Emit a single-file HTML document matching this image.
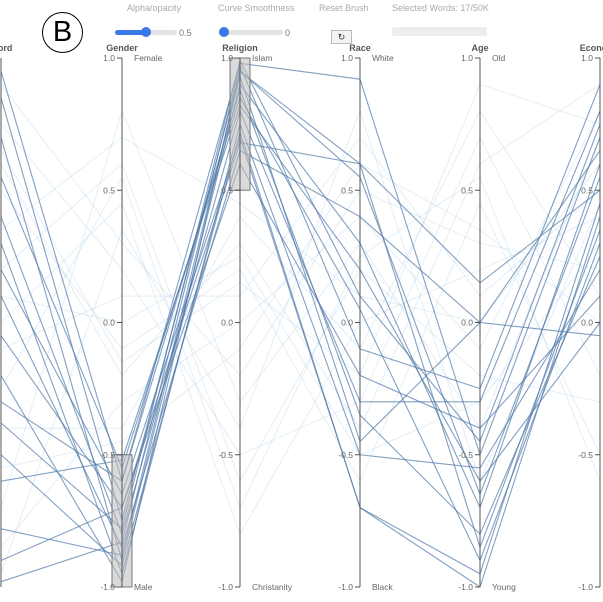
<!DOCTYPE html>
<html><head><meta charset="utf-8"><style>
body{margin:0;background:#fff;font-family:"Liberation Sans",sans-serif;}
#wrap{position:relative;width:603px;height:602px;overflow:hidden}
.lbl{position:absolute;font-size:9px;color:#aaa;white-space:nowrap}
</style></head><body>
<div id="wrap">
<div style="position:absolute;left:42px;top:12px;width:39px;height:39px;border:1.5px solid #000;border-radius:50%;font-size:29px;line-height:39px;text-align:center;">B</div>
<div class="lbl" style="left:127px;top:3px">Alpha/opacity</div>
<div style="position:absolute;left:115px;top:30px;width:62px;height:5px;background:#e3e3e3;border-radius:3px"><div style="width:31px;height:5px;background:#3b78e7;border-radius:3px"></div><div style="position:absolute;left:26px;top:-3px;width:10px;height:10px;border-radius:50%;background:#3b78e7"></div></div>
<div class="lbl" style="left:179px;top:28px;color:#777">0.5</div>
<div class="lbl" style="left:218px;top:3px">Curve Smoothness</div>
<div style="position:absolute;left:220px;top:30px;width:63px;height:5px;background:#e3e3e3;border-radius:3px"><div style="position:absolute;left:-1px;top:-3px;width:10px;height:10px;border-radius:50%;background:#3b78e7"></div></div>
<div class="lbl" style="left:285px;top:28px;color:#777">0</div>
<div class="lbl" style="left:319px;top:3px">Reset Brush</div>
<div style="position:absolute;left:331px;top:30px;width:19px;height:12px;border:1px solid #bbb;background:#f4f4f4;font-size:9px;text-align:center;line-height:12px;color:#333">↻</div>
<div class="lbl" style="left:392px;top:3px">Selected Words: 17/50K</div>
<div style="position:absolute;left:392px;top:27px;width:95px;height:9px;background:#ebedef;border-radius:2px"></div>
<svg id="chart" width="603" height="602" style="position:absolute;left:0;top:0"></svg>
</div>
<script>
const dims=["Word","Gender","Religion","Race","Age","Economy"];
const topCats=["","Female","Islam","White","Old",""];
const botCats=["","Male","Christanity","Black","Young",""];
const tickVals=[1.0,0.5,0.0,-0.5,-1.0];
const tickLabels=["1.0","0.5","0.0","-0.5","-1.0"];
const selWord=[0.95,0.85,0.7,0.55,0.4,0.3,0.2,0.1,-0.05,-0.2,-0.3,-0.38,-0.5,-0.6,-0.78,-0.9,-0.98];
const selGender=[-0.6,-0.75,-0.9,-0.55,-0.8,-0.95,-0.65,-0.85,-0.7,-0.98,-0.6,-0.78,-0.92,-0.52,-0.88,-0.7,-0.83];
const selReligion=[0.98,0.95,0.9,0.85,0.8,0.75,0.7,0.65,0.6,0.95,0.88,0.99,0.72,0.82,0.93,0.68,0.97];
const selRace=[0.92,0.6,0.3,0.05,-0.3,-0.5,-0.7,0.4,-0.2,0.55,-0.35,0.1,-0.7,0.2,-0.45,0.6,-0.1];
const selAge=[-0.5,0.15,-0.7,-0.9,-0.3,-0.55,-1.0,0.0,-0.4,-0.65,-0.8,-0.45,-0.95,-0.6,0.0,-0.85,-0.25];
const selEcon=[0.7,0.5,0.6,0.3,0.8,0.2,0.4,0.65,0.1,0.55,0.25,0.75,0.45,0.0,-0.05,0.35,0.9];
const bgWord=[0.9,0.6,0.2,-0.1,-0.4,-0.7,0.5,0.0,-0.85,0.75,0.35,-0.55,0.1,-0.25,0.65,-0.95];
const bgGender=[0.3,-0.2,0.6,0.1,-0.4,0.8,-0.1,0.45,-0.3,0.2,0.7,-0.45,0.0,0.55,-0.15,0.35];
const bgReligion=[-0.2,0.3,-0.6,0.1,0.4,-0.3,0.2,-0.8,0.0,-0.5,0.45,-0.1,0.25,-0.7,0.15,-0.4];
const bgRace=[0.5,-0.4,0.2,0.7,-0.1,0.3,-0.6,0.0,0.4,-0.3,0.1,0.6,-0.5,0.25,-0.2,0.8];
const bgAge=[0.3,0.6,-0.2,0.1,0.8,-0.4,0.45,0.2,-0.1,0.7,0.0,0.35,-0.3,0.55,0.9,-0.6];
const bgEcon=[0.2,0.9,-0.3,0.5,0.1,0.7,-0.5,0.4,0.8,-0.2,0.6,0.0,0.3,-0.6,0.75,0.45];
const brushes=[[1,-1,-0.5],[2,0.5,1.0]];
const xs=[1,122,240,360,480,600];
const y=v=>322.5-v*264.5;
const NS="http://www.w3.org/2000/svg";
const svg=document.getElementById('chart');
function mk(t,a){const e=document.createElementNS(NS,t);for(const k in a)e.setAttribute(k,a[k]);svg.appendChild(e);return e;}
function drawLines(cols,stroke,op,name){
 for(let i=0;i<cols[0].length;i++){
  const pts=cols.map((c,d)=>xs[d]+","+y(c[i])).join(" ");
  const p=mk('polyline',{points:pts,fill:'none',stroke:stroke,'stroke-opacity':op,'stroke-width':1.1});
  
  
 }
}
drawLines([bgWord,bgGender,bgReligion,bgRace,bgAge,bgEcon],'#9cc3de',0.25,'background-word-line');
drawLines([selWord,selGender,selReligion,selRace,selAge,selEcon],'#4f77a8',0.7,'selected-word-line');
brushes.forEach(b=>{
 const r=mk('rect',{x:xs[b[0]]-10,y:y(b[2]),width:20,height:y(b[1])-y(b[2]),fill:'#bbb','fill-opacity':0.55,stroke:'#777','stroke-width':1});
 
 
});
dims.forEach((d,i)=>{
 const x=xs[i];
 const a=mk('line',{x1:x,x2:x,y1:y(1),y2:y(-1),stroke:'#555','stroke-width':1});
 
 
 const t=mk('text',{x:x,y:51,'font-size':9,'font-weight':'bold',fill:'#555','text-anchor':'middle'});
 t.textContent=d;
 
 
 if(i>0){
  tickVals.forEach((v,j)=>{
   mk('line',{x1:x-5,x2:x,y1:y(v),y2:y(v),stroke:'#555'});
   const tl=mk('text',{x:x-7,y:y(v)+3,'font-size':8.5,fill:'#666','text-anchor':'end'});
   tl.textContent=tickLabels[j];
   
   
  });
  const c1=mk('text',{x:x+12,y:y(1)+3,'font-size':8.5,fill:'#666'});c1.textContent=topCats[i];
  
  
  const c2=mk('text',{x:x+12,y:y(-1)+3,'font-size':8.5,fill:'#666'});c2.textContent=botCats[i];
  
  
 }
});
</script>
</body></html>
